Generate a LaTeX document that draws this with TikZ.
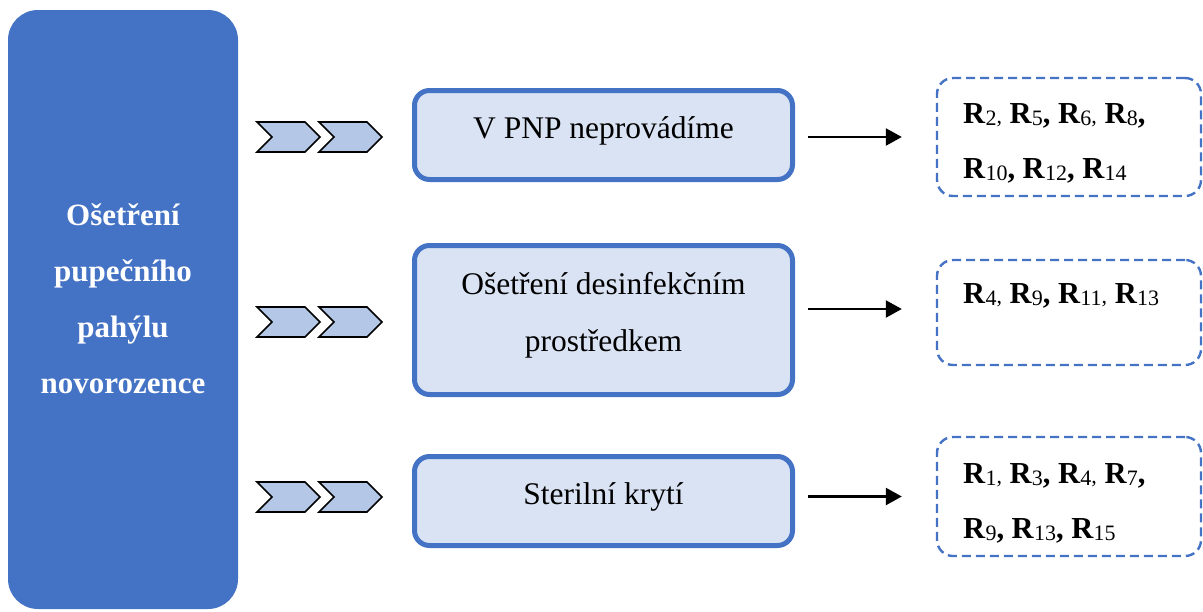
\documentclass[tikz,border=0pt]{standalone}
\usepackage{fontspec}
\setmainfont{Liberation Serif}
\usetikzlibrary{arrows.meta}

\definecolor{accent}{HTML}{4472C4}
\definecolor{pale}{HTML}{DAE3F3}
\definecolor{chevfill}{HTML}{B4C7E7}

% R with a lowered, lighter index; \Rc adds the small comma set with the index
\newcommand{\Rs}[1]{\textbf{R}{\fontsize{22}{22}\selectfont\mdseries\raisebox{-2pt}{#1}}}
\newcommand{\Rc}[1]{\textbf{R}{\fontsize{22}{22}\selectfont\mdseries\raisebox{-2pt}{#1},}}

\tikzset{
  leftbox/.style={fill=accent, draw=none, rounded corners=30pt,
    minimum width=230pt, minimum height=599pt, inner sep=0pt},
  lefttxt/.style={anchor=base, text=white, font=\bfseries\fontsize{31}{31}\selectfont, inner sep=0pt},
  midbox/.style={fill=pale, draw=accent, line width=5pt, rounded corners=15pt,
    minimum width=378pt, inner sep=0pt},
  midtxt/.style={anchor=base, font=\fontsize{31.5}{31.5}\selectfont, inner sep=0pt},
  resbox/.style={draw=accent, line width=2.4pt, dash pattern=on 9pt off 5pt,
    rounded corners=16pt, minimum width=264pt, inner sep=0pt},
  restxt/.style={anchor=base west, font=\fontsize{30.5}{30.5}\selectfont, inner sep=0pt},
  arr/.style={line width=2.4pt, -{Triangle[length=16pt,width=17pt]}},
  chevron/.pic={
    \draw[fill=chevfill, draw=black, line width=1.6pt, line join=miter]
      (0,-15) -- (48,-15) -- (63,0) -- (48,15) -- (0,15) -- (15,0) -- cycle;
  }
}

\begin{document}
\begin{tikzpicture}[x=1pt, y=-1pt]
  \useasboundingbox (0,0) rectangle (1203,611);

  % main topic column
  \node[leftbox] (main) at (123,309.5) {};
  \node[lefttxt] (l1) at (123,225) {Ošetření};
  \node[lefttxt] (l2) at (123,281) {pupečního};
  \node[lefttxt] (l3) at (123,337) {pahýlu};
  \node[lefttxt] (l4) at (123,393) {novorozence};

  % chevron pairs
  \foreach \yy in {137,322,497} {
    \pic at (257,\yy) {chevron};
    \pic at (319,\yy) {chevron};
  }

  % care options
  \node[midbox, minimum height=89pt]  (m1) at (603.5,135) {};
  \node[midtxt] (m1t) at (603.5,138) {V PNP neprovádíme};

  \node[midbox, minimum height=149pt] (m2) at (603.5,320) {};
  \node[midtxt] (m2a) at (603.5,294) {Ošetření desinfekčním};
  \node[midtxt] (m2b) at (603.5,351) {prostředkem};

  \node[midbox, minimum height=89pt]  (m3) at (603.5,501) {};
  \node[midtxt] (m3t) at (603.5,504) {Sterilní krytí};

  % respondent groups
  \node[resbox, minimum height=118pt] (r1) at (1069,137) {};
  \node[restxt] (r1a) at (963,123) {\Rc{2} \Rs{5}\textbf{,} \Rc{6} \Rs{8}\textbf{,}};
  \node[restxt] (r1b) at (963,178) {\Rs{10}\textbf{,} \Rs{12}\textbf{,} \Rs{14}};

  \node[resbox, minimum height=105pt] (r2) at (1069,312.5) {};
  \node[restxt] (r2a) at (963,303) {\Rc{4} \Rs{9}\textbf{,} \Rc{11} \Rs{13}};

  \node[resbox, minimum height=119pt] (r3) at (1069,496.5) {};
  \node[restxt] (r3a) at (963,483) {\Rc{1} \Rs{3}\textbf{,} \Rc{4} \Rs{7}\textbf{,}};
  \node[restxt] (r3b) at (963,538) {\Rs{9}\textbf{,} \Rs{13}\textbf{,} \Rs{15}};

  % connectors
  \draw[arr] ([xshift=13pt]m1.east |- r1.west) -- ([xshift=-34pt]r1.west);
  \draw[arr] ([xshift=13pt,yshift=3.5pt]m2.east |- r2.west) -- ([xshift=-34pt,yshift=3.5pt]r2.west);
  \draw[arr] ([xshift=13pt]m3.east |- r3.west) -- ([xshift=-34pt]r3.west);
\end{tikzpicture}
\end{document}
